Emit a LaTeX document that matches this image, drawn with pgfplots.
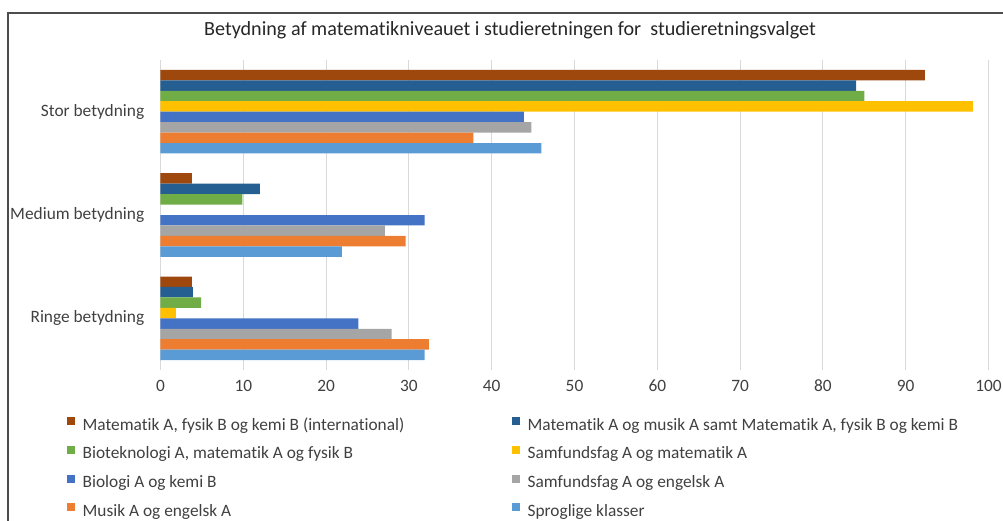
\documentclass[border=0pt]{standalone}
\usepackage{fontspec}
\setmainfont{Carlito}[RawFeature={-liga;-clig;-dlig}]
\usepackage{pgfplots}
\pgfplotsset{compat=1.18}
\definecolor{cBrown}{HTML}{9E480E}
\definecolor{cDBlue}{HTML}{255E91}
\definecolor{cGreen}{HTML}{70AD47}
\definecolor{cYellow}{HTML}{FFC000}
\definecolor{cBlue}{HTML}{4472C4}
\definecolor{cGray}{HTML}{A5A5A5}
\definecolor{cOrange}{HTML}{ED7D31}
\definecolor{cLBlue}{HTML}{5B9BD5}
\definecolor{cGrid}{HTML}{D9D9D9}
\definecolor{cText}{HTML}{404040}
\begin{document}
\begin{tikzpicture}
\useasboundingbox (0pt,0pt) rectangle (752.25pt,-390.75pt);
\draw[line width=1.1pt, color=black!70] (6pt,-391pt) -- (6pt,-9.75pt) -- (753pt,-9.75pt);
\node[font=\fontsize{15.1}{17}\selectfont, text=black!85] at (382.5pt,-22.5pt) {Betydning af matematikniveauet i studieretningen for\ \ studieretningsvalget};
\begin{axis}[
  at={(120.375pt,-277.5pt)}, anchor=south west,
  scale only axis, width=621pt, height=232.5pt,
  xbar, bar width=7.84pt,
  xmin=0, xmax=100, ymin=-0.5, ymax=2.5,
  xtick={0,10,...,100}, ytick={0,1,2},
  yticklabels={Ringe betydning, Medium betydning, Stor betydning},
  axis line style={draw=none}, major tick length=0pt,
  xmajorgrids, grid style={color=cGrid, line width=0.75pt},
  /pgf/number format/assume math mode=true,
  tick label style={font=\fontsize{13}{15}\selectfont, text=cText},
  xticklabel style={yshift=-4pt},
  yticklabel style={xshift=-8.7pt},
  legend columns=2,
  legend cell align=left,
  legend style={draw=none, fill=none, inner sep=0pt, at={(-0.1129,-0.1516)}, anchor=north west,
    font=\fontsize{13}{15}\selectfont, text=cText,
    nodes={inner sep=0pt, text height=9pt, text depth=2.8pt},
    row sep=9pt,
    /tikz/every odd column/.style={column sep=5.5pt},
    /tikz/every even column/.style={column sep=81pt}},
  legend image code/.code={\fill[#1] (0pt,0.6pt) rectangle (6pt,6.6pt);},
]
\addplot[fill=cBrown, draw=none, bar shift=27.44pt] coordinates {(92.3,2) (3.8,1) (3.8,0)};
\addlegendentry{Matematik A, fysik B og kemi B (international)}
\addplot[fill=cDBlue, draw=none, bar shift=19.6pt] coordinates {(84.0,2) (12.0,1) (3.9,0)};
\addlegendentry{Matematik A og musik A samt Matematik A, fysik B og kemi B}
\addplot[fill=cGreen, draw=none, bar shift=11.76pt] coordinates {(85.0,2) (9.9,1) (4.9,0)};
\addlegendentry{Bioteknologi A, matematik A og fysik B}
\addplot[fill=cYellow, draw=none, bar shift=3.92pt] coordinates {(98.1,2) (1.85,0)};
\addlegendentry{Samfundsfag A og matematik A}
\addplot[fill=cBlue, draw=none, bar shift=-3.92pt] coordinates {(43.9,2) (31.9,1) (23.9,0)};
\addlegendentry{Biologi A og kemi B}
\addplot[fill=cGray, draw=none, bar shift=-11.76pt] coordinates {(44.8,2) (27.1,1) (27.9,0)};
\addlegendentry{Samfundsfag A og engelsk A}
\addplot[fill=cOrange, draw=none, bar shift=-19.6pt] coordinates {(37.8,2) (29.6,1) (32.4,0)};
\addlegendentry{Musik A og engelsk A}
\addplot[fill=cLBlue, draw=none, bar shift=-27.44pt] coordinates {(46.0,2) (21.9,1) (31.9,0)};
\addlegendentry{Sproglige klasser}
\end{axis}
\end{tikzpicture}
\end{document}
